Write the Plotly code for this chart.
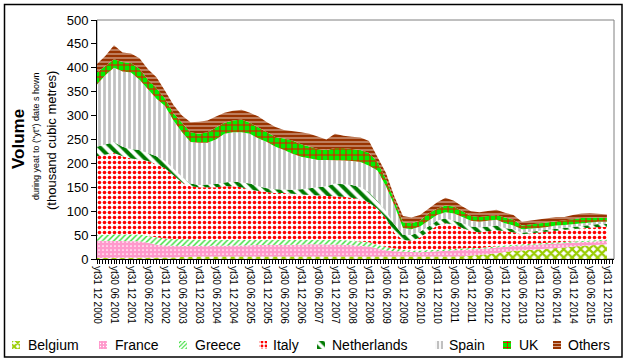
import plotly.graph_objects as go

W, H = 628, 363

# month index (0 = Dec 2000), quarterly data points
months = list(range(0, 181, 3))
quarter_labels = []
for m in months:
    mm = (12 + m - 1) % 12 + 1
    yy = 2000 + (11 + m) // 12
    day = {12: 31, 3: 31, 6: 30, 9: 30}[mm]
    quarter_labels.append(f"yt{day} {mm:02d} {yy}")

tick_months = list(range(0, 181, 6))
tick_labels = [quarter_labels[months.index(m)] for m in tick_months]

belgium = [2, 2, 2, 2, 2, 2, 2, 2, 2, 3, 4, 5, 5, 5, 5, 5, 5, 5, 5, 5, 5,
           5, 5, 5, 5, 5, 5, 5, 5, 5, 5, 5, 5, 5, 4, 4, 4, 4, 4, 4, 4,
           5, 5, 6, 7, 8, 10, 12, 15, 17, 18, 19, 20, 21, 22, 24, 26, 27, 29, 30, 31]
france = [36, 36, 36, 36, 36, 35, 32, 28, 26, 24, 23, 22, 22, 22, 22, 23, 23, 23, 24, 24, 24,
          24, 24, 25, 25, 26, 26, 26, 25, 25, 24, 23, 21, 17, 14, 12, 11, 10, 10, 11, 12,
          12, 13, 13, 13, 12, 12, 12, 11, 10, 10, 10, 10, 10, 10, 9, 8, 8, 7, 7, 7]
greece = [12, 12, 14, 14, 14, 14, 14, 15, 15, 15, 15, 14, 14, 13, 13, 12, 12, 12, 11, 11, 11,
          11, 11, 10, 10, 9, 9, 9, 10, 10, 9, 9, 9, 8, 7, 6, 5, 4, 4, 4, 4,
          3, 3, 3, 3, 3, 3, 3, 3, 3, 3, 3, 3, 3, 3, 3, 3, 3, 3, 3, 3]
italy = [165, 168, 170, 163, 158, 157, 157, 153, 147, 133, 118, 111, 109, 110, 110, 112, 112, 110, 105, 102, 100,
         98, 98, 96, 95, 94, 93, 92, 92, 90, 90, 88, 83, 75, 60, 33, 20, 20, 27, 39, 50,
         55, 51, 43, 35, 33, 33, 33, 29, 26, 21, 22, 23, 24, 25, 26, 26, 26, 27, 27, 26]
netherlands = [20, 22, 23, 20, 20, 20, 17, 17, 15, 13, 12, 6, 5, 6, 7, 8, 10, 10, 13, 10, 8,
               8, 7, 9, 11, 14, 17, 20, 26, 26, 27, 25, 22, 17, 15, 17, 10, 12, 12, 10, 10,
               10, 8, 10, 10, 10, 10, 10, 7, 6, 3, 3, 3, 3, 3, 3, 4, 5, 6, 6, 6]
spain = [130, 145, 155, 157, 160, 147, 133, 120, 115, 102, 93, 87, 88, 87, 93, 102, 103, 105, 104, 100, 97,
         89, 83, 75, 68, 62, 57, 55, 49, 50, 50, 53, 55, 63, 52, 40, 15, 12, 11, 12, 12,
         13, 15, 13, 12, 12, 12, 12, 10, 8, 7, 6, 6, 6, 7, 6, 6, 6, 5, 5, 5]
uk = [25, 20, 18, 20, 20, 23, 20, 23, 15, 15, 20, 20, 19, 22, 25, 23, 25, 27, 23, 23, 20,
      20, 24, 28, 26, 25, 23, 21, 25, 26, 25, 25, 27, 18, 15, 10, 12, 13, 12, 15, 13,
      14, 15, 12, 10, 10, 10, 10, 12, 12, 8, 9, 9, 9, 9, 9, 10, 11, 10, 9, 8]
others = [18, 20, 29, 20, 20, 22, 22, 22, 17, 17, 15, 21, 25, 25, 23, 21, 20, 20, 21, 23, 21,
          21, 18, 20, 25, 27, 26, 22, 30, 26, 26, 26, 25, 12, 13, 8, 13, 12, 12, 10, 13,
          16, 12, 10, 10, 10, 10, 11, 10, 10, 8, 8, 8, 9, 9, 8, 9, 9, 9, 8, 7]

series_names = ["Belgium", "France", "Greece", "Italy", "Netherlands", "Spain", "UK", "Others"]
series_values = [belgium, france, greece, italy, netherlands, spain, uk, others]
patterns = [
    dict(shape="x", fgcolor="#99CC00", bgcolor="white", size=6, solidity=0.6),
    dict(shape=".", fgcolor="white", bgcolor="#FF99CC", size=4, solidity=0.15),
    dict(shape="/", fgcolor="#33DD33", bgcolor="white", size=4, solidity=0.35),
    dict(shape=".", fgcolor="#FF0000", bgcolor="white", size=5, solidity=0.4),
    dict(shape="\\", fgcolor="#007A00", bgcolor="white", size=8, solidity=0.5),
    dict(shape="|", fgcolor="#C0C0C0", bgcolor="white", size=5, solidity=0.55),
    dict(shape="+", fgcolor="#FF0000", bgcolor="#00EE00", size=6, solidity=0.3),
    dict(shape="-", fgcolor="white", bgcolor="#993300", size=4, solidity=0.18),
]

# legend layout (pixel positions of swatch and label)
legend_sym_x = [12, 99, 179, 259, 317, 435, 503, 553]
legend_txt_x = [28, 115, 195, 273, 332, 449, 519, 568]
legend_y = 345

# plot-area geometry in pixels
PL, PR, PT, PB = 97, 614, 20, 259
X_MAX = 182.5

fig = go.Figure()
for name, vals, pat in zip(series_names, series_values, patterns):
    fig.add_trace(go.Scatter(
        x=months, y=vals, name=name, mode="lines",
        stackgroup="one", line=dict(width=0),
        fillcolor="white",
        fillpattern=dict(fillmode="replace", **pat),
        hoverinfo="skip", showlegend=False,
    ))

# legend swatches on an overlay axis in pixel space
for pat, sx in zip(patterns, legend_sym_x):
    s = 8
    fig.add_trace(go.Scatter(
        x=[sx, sx + s, sx + s, sx, sx], y=[legend_y - s / 2, legend_y - s / 2, legend_y + s / 2, legend_y + s / 2, legend_y - s / 2],
        xaxis="x2", yaxis="y2", mode="lines", fill="toself", line=dict(width=0),
        fillcolor="white", fillpattern=dict(fillmode="replace", **{**pat, "size": max(3, pat["size"] - 1)}),
        hoverinfo="skip", showlegend=False,
    ))

font = "Liberation Sans, Arial, sans-serif"
annotations = [
    dict(text="<b>Volume</b>", xref="paper", yref="paper", x=18 / W, y=1 - 139 / H,
         textangle=-90, showarrow=False, font=dict(size=17), xanchor="center", yanchor="middle"),
    dict(text='during yeat to ("yt") date s hown', xref="paper", yref="paper", x=36 / W, y=1 - 137 / H,
         textangle=-90, showarrow=False, font=dict(size=9), xanchor="center", yanchor="middle"),
    dict(text="(thousand cubic metres)", xref="paper", yref="paper", x=51 / W, y=1 - 141 / H,
         textangle=-90, showarrow=False, font=dict(size=13), xanchor="center", yanchor="middle"),
]
for name, tx in zip(series_names, legend_txt_x):
    annotations.append(dict(text=name, xref="paper", yref="paper", x=tx / W, y=1 - legend_y / H,
                            xanchor="left", yanchor="middle", showarrow=False, font=dict(size=14),
                            xshift=-2))

fig.update_layout(
    width=W, height=H,
    margin=dict(l=0, r=0, t=0, b=0),
    paper_bgcolor="white", plot_bgcolor="rgba(0,0,0,0)",
    font=dict(family=font, color="black", size=12),
    showlegend=False,
    xaxis=dict(domain=[PL / W, PR / W], range=[0, X_MAX], tickmode="array", tickvals=tick_months,
               ticktext=tick_labels, tickangle=90, tickfont=dict(size=10), ticks="outside", ticklen=4,
               tickcolor="black", showline=True, linecolor="black", linewidth=1, showgrid=False,
               zeroline=False, automargin=False, fixedrange=True,
               minor=dict(dtick=1, tick0=0, ticks="outside", ticklen=4, tickcolor="black", showgrid=False)),
    yaxis=dict(domain=[1 - PB / H, 1 - PT / H], range=[0, 500], dtick=50, ticks="outside", ticklen=5,
               tickcolor="black", tickfont=dict(size=13), showline=True, linecolor="black", linewidth=1,
               showgrid=False, zeroline=False, automargin=False, fixedrange=True),
    xaxis2=dict(domain=[0, 1], range=[0, W], visible=False, fixedrange=True, anchor="y2"),
    yaxis2=dict(domain=[0, 1], range=[H, 0], visible=False, fixedrange=True, anchor="x2"),
    shapes=[
        dict(type="rect", xref="paper", yref="paper", x0=PL / W, x1=PR / W, y0=1 - PB / H, y1=1 - PT / H,
             line=dict(color="#808080", width=1), layer="below"),
        dict(type="rect", xref="paper", yref="paper",
             x0=4.5 / W, x1=622 / W, y0=1 - 357 / H, y1=1 - 4.5 / H,
             line=dict(color="black", width=1.5), layer="below"),
    ],
    annotations=annotations,
)

fig.write_html("out.html", config={"displayModeBar": False},
               post_script="document.body.style.margin='0';document.body.style.overflow='hidden';")
